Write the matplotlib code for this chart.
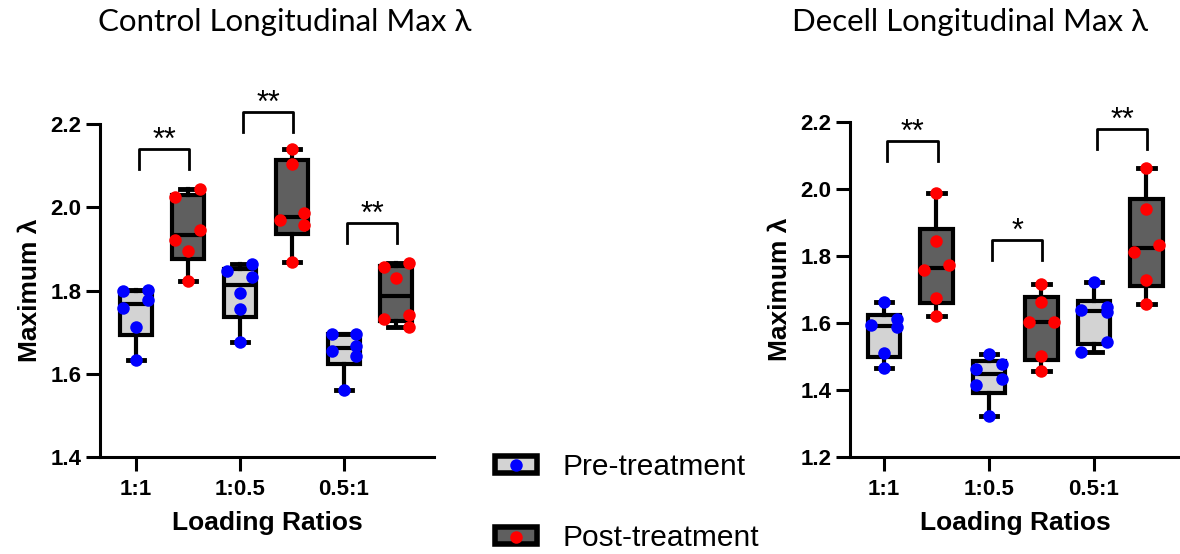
import numpy as np
import matplotlib
matplotlib.use("Agg")
import matplotlib.pyplot as plt
from matplotlib.patches import Patch
from matplotlib.lines import Line2D

plt.rcParams['font.family'] = ['Liberation Sans', 'DejaVu Sans']

ratios = ["1:1", "1:0.5", "0.5:1"]

# control samples, 6 per loading ratio
ctrl_pre = [
    [1.801, 1.799, 1.776, 1.759, 1.713, 1.633],
    [1.863, 1.848, 1.833, 1.793, 1.756, 1.675],
    [1.696, 1.696, 1.667, 1.655, 1.643, 1.561],
]
ctrl_post = [
    [2.044, 2.024, 1.946, 1.922, 1.894, 1.823],
    [2.140, 2.104, 1.986, 1.970, 1.958, 1.868],
    [1.866, 1.856, 1.831, 1.741, 1.732, 1.713],
]
ctrl_stars = ["**", "**", "**"]
ctrl_bracket = [2.141, 2.229, 1.963]

# decellularised samples
decell_pre = [
    [1.661, 1.610, 1.593, 1.588, 1.510, 1.464],
    [1.508, 1.477, 1.461, 1.431, 1.414, 1.321],
    [1.722, 1.646, 1.638, 1.633, 1.543, 1.513],
]
decell_post = [
    [1.986, 1.844, 1.772, 1.757, 1.673, 1.621],
    [1.717, 1.663, 1.603, 1.601, 1.501, 1.456],
    [2.061, 1.938, 1.832, 1.812, 1.727, 1.655],
]
decell_stars = ["**", "*", "**"]
decell_bracket = [2.142, 1.847, 2.178]

PRE_FACE, POST_FACE = "#d3d3d3", "#5f5f5f"
PRE_DOT, POST_DOT = "#0000ff", "#ff0000"


def box_stats(vals):
    # prism style quartiles (n+1 method), whiskers min to max
    v = np.asarray(vals)
    q1, med, q3 = np.percentile(v, [25, 50, 75], method="weibull")
    return dict(med=med, q1=q1, q3=q3, whislo=v.min(), whishi=v.max(), fliers=[])


def swarm(vals, thr, step):
    # spread close values left/right like a scatter dot plot
    v = np.asarray(vals)
    order = np.argsort(v, kind="stable")
    s = v[order]
    groups = [[0]]
    for k in range(1, len(s)):
        if s[k] - s[k - 1] < thr - 1e-9:
            groups[-1].append(k)
        else:
            groups.append([k])
    off = np.zeros(len(s))
    for g in groups:
        if len(g) == 1:
            continue
        side = -1 if len(g) % 2 == 0 else 1
        for j, k in enumerate(g):
            off[k] = side * step * (1 if j % 2 == 0 else -1)
    res = np.zeros(len(s))
    res[order] = off
    return res


def panel(ax, pre, post, stars, bracket, ylim, yticks, xlim):
    x = np.arange(len(ratios))
    rng = ylim[1] - ylim[0]
    for vals, pos, face, dot in [(pre, x, PRE_FACE, PRE_DOT), (post, x + 0.5, POST_FACE, POST_DOT)]:
        ax.bxp([box_stats(v) for v in vals], positions=pos, widths=0.31, patch_artist=True,
               showfliers=False, manage_ticks=False, capwidths=0.16,
               boxprops=dict(facecolor=face, edgecolor="black", linewidth=3),
               medianprops=dict(color="black", linewidth=3),
               whiskerprops=dict(color="black", linewidth=3),
               capprops=dict(color="black", linewidth=3.5))
        for p, v in zip(pos, vals):
            ax.plot(p + swarm(v, 0.031 * rng, 0.12), v, "o", color=dot, ms=9, mew=0,
                    zorder=4, clip_on=False)

    leg = 0.06 * rng
    for i, (s, h) in enumerate(zip(stars, bracket)):
        x0, x1 = i + 0.03, i + 0.51
        ax.plot([x0, x0, x1, x1], [h - leg, h, h, h - leg], color="black", lw=2, clip_on=False)
        ax.annotate(s, xy=((x0 + x1) / 2, h), xytext=(0, 0), textcoords="offset points",
                    ha="center", va="baseline", fontsize=22, annotation_clip=False)

    ax.set_xlim(*xlim)
    ax.set_ylim(*ylim)
    ax.set_yticks(yticks)
    ax.set_yticklabels([f"{t:.1f}" for t in yticks], fontsize=16, fontweight="bold")
    ax.set_xticks(x)
    ax.set_xticklabels(ratios, fontsize=16, fontweight="bold")
    ax.spines[["top", "right"]].set_visible(False)
    ax.spines[["left", "bottom"]].set_linewidth(2.2)
    ax.tick_params(axis="both", direction="out", length=10, width=2.2)
    ax.tick_params(axis="x", pad=6)
    ax.set_xlabel("Loading Ratios", fontsize=19, fontweight="bold", labelpad=8)
    ax.set_ylabel("Maximum λ", fontsize=19, fontweight="bold", labelpad=6)


fig = plt.figure(figsize=(11.8, 5.54), dpi=100)
ax1 = fig.add_axes([0.0847, 0.1756, 0.2831, 0.600])
ax2 = fig.add_axes([0.7203, 0.1756, 0.2797, 0.6047])

panel(ax1, ctrl_pre, ctrl_post, ctrl_stars, ctrl_bracket, (1.4, 2.2),
      [1.4, 1.6, 1.8, 2.0, 2.2], (-0.346, 2.865))
panel(ax2, decell_pre, decell_post, decell_stars, decell_bracket, (1.2, 2.2),
      [1.2, 1.4, 1.6, 1.8, 2.0, 2.2], (-0.324, 2.82))

title_font = ['Lato', 'Noto Sans', 'DejaVu Sans']
fig.text(285 / 1180, 1 - 22 / 554, "Control Longitudinal Max λ", ha="center", va="center",
         fontsize=22.5, family=title_font)
fig.text(970 / 1180, 1 - 22 / 554, "Decell Longitudinal Max λ", ha="center", va="center",
         fontsize=22.5, family=title_font)

handles = [
    (Patch(facecolor=PRE_FACE, edgecolor="black", linewidth=4),
     Line2D([], [], marker="o", color=PRE_DOT, ls="", ms=9, mew=0)),
    (Patch(facecolor=POST_FACE, edgecolor="black", linewidth=4),
     Line2D([], [], marker="o", color=POST_DOT, ls="", ms=9, mew=0)),
]
fig.legend(handles, ["Pre-treatment", "Post-treatment"], loc="center left",
           bbox_to_anchor=(0.4195, 0.093), frameon=False, fontsize=21.5, numpoints=1,
           handlelength=1.4, handleheight=0.5, handletextpad=0.85, labelspacing=1.45,
           borderpad=0, borderaxespad=0)

fig.savefig("out.png", dpi=100)
